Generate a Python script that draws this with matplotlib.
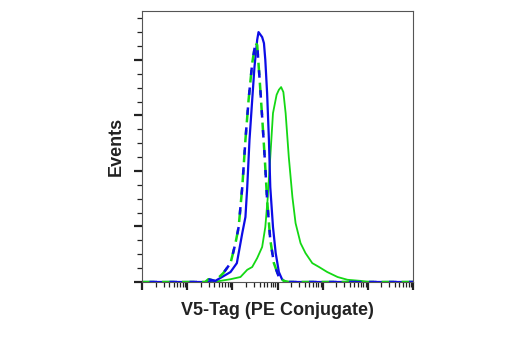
import numpy as np
import matplotlib
matplotlib.use("Agg")
import matplotlib.pyplot as plt
from matplotlib.ticker import LogLocator, MultipleLocator, NullFormatter

# values: x as log10(intensity), y as event counts
blue_log = [0.0, 1.58, 1.73, 1.96, 2.10, 2.22, 2.29, 2.33, 2.38, 2.44, 2.49, 2.55, 2.58,
            2.66, 2.70, 2.73, 2.77, 2.81, 2.84, 2.90, 2.96, 3.03, 3.10, 3.18, 6.0]
blue_cnt = [0, 0, 7, 18, 34, 88, 117, 171, 256, 328, 387, 436, 450,
            441, 430, 400, 340, 256, 171, 99, 52, 18, 5, 0, 0]

iso_log = [0.0, 1.40, 1.47, 1.62, 1.80, 1.96, 2.07, 2.14, 2.22, 2.29, 2.36, 2.44, 2.51,
           2.55, 2.61, 2.66, 2.72, 2.77, 2.84, 2.92, 3.03, 3.14, 3.25, 6.0]
iso_cnt = [0, 0, 5, 2, 16, 34, 70, 99, 171, 256, 328, 394, 430,
           427, 358, 297, 220, 148, 76, 34, 9, 2, 0, 0]

green_log = [0.0, 1.58, 1.96, 2.18, 2.33, 2.44, 2.55, 2.66, 2.73, 2.78, 2.84, 2.90, 2.98,
             3.03, 3.08, 3.13, 3.18, 3.25, 3.33, 3.40, 3.51, 3.62, 3.77, 3.92, 4.10,
             4.33, 4.55, 4.84, 5.0, 6.0]
green_cnt = [0, 0, 5, 9, 22, 27, 43, 63, 99, 148, 225, 304, 337,
             346, 351, 342, 304, 225, 153, 106, 70, 52, 34, 27, 18,
             9, 4, 2, 0, 0]

plt.rcParams['font.family'] = ['Liberation Sans', 'DejaVu Sans']

fig = plt.figure(figsize=(5.2, 3.5), dpi=100)
ax = fig.add_axes([142 / 520, 1 - 282 / 350, 271 / 520, 271 / 350])

ax.plot(10 ** np.array(green_log), green_cnt, color='#14d814', lw=1.3)
ax.plot(10 ** np.array(blue_log), blue_cnt, color='#0c0ce6', lw=1.6)
ax.plot(10 ** np.array(iso_log), iso_cnt, color='#14d814', lw=1.8, ls=(0, (5, 3)))
ax.plot(10 ** np.array(iso_log), iso_cnt, color='#0c0ce6', lw=1.8, ls=(5, (3, 5)))

ax.set_xscale('log')
ax.set_xlim(1, 1e6)
ax.set_ylim(0, 488)

ax.xaxis.set_major_locator(LogLocator(base=10, numticks=10))
ax.xaxis.set_minor_locator(LogLocator(base=10, subs=np.arange(2, 10), numticks=10))
ax.xaxis.set_major_formatter(NullFormatter())
ax.xaxis.set_minor_formatter(NullFormatter())
ax.yaxis.set_major_locator(MultipleLocator(100))
ax.yaxis.set_minor_locator(MultipleLocator(25))
ax.yaxis.set_major_formatter(NullFormatter())

ax.tick_params(which='major', direction='out', length=6, width=1.6, color='#222222')
ax.tick_params(which='minor', direction='out', length=3.5, width=0.9, color='#222222')

for s in ax.spines.values():
    s.set_color('#555555')
    s.set_linewidth(0.8)

ax.set_xlabel('V5-Tag (PE Conjugate)', fontsize=13, fontweight='bold', color='#222222', labelpad=5)
ax.set_ylabel('Events', fontsize=13, fontweight='bold', color='#222222', labelpad=3)

fig.savefig('out.png', dpi=100)
